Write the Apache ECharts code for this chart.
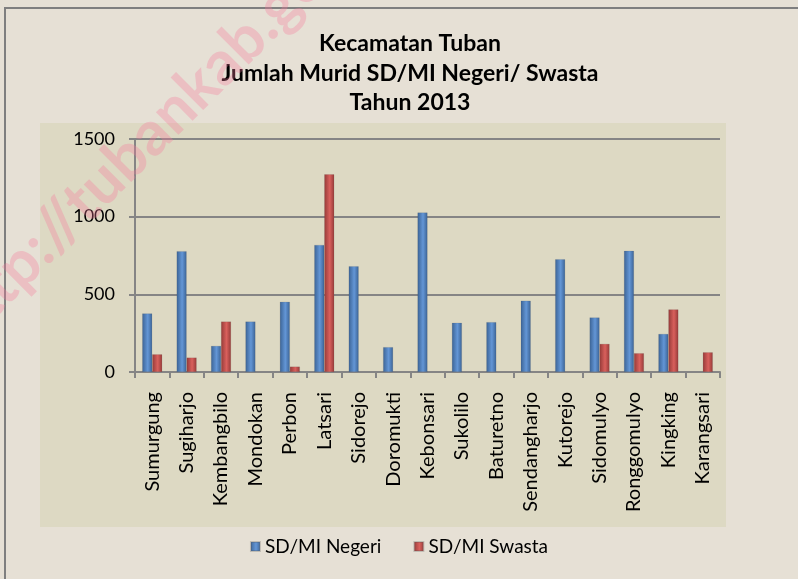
<!DOCTYPE html>
<html>
<head>
<meta charset="utf-8">
<script src="https://cdn.jsdelivr.net/npm/echarts@6/dist/echarts.min.js"></script>
<style>html,body{margin:0;padding:0;background:#e6e0d5;}#c{width:798px;height:579px;}</style>
</head>
<body>
<div id="c"></div>
<script>
var categories = ['Sumurgung','Sugiharjo','Kembangbilo','Mondokan','Perbon','Latsari','Sidorejo','Doromukti','Kebonsari','Sukolilo','Baturetno','Sendangharjo','Kutorejo','Sidomulyo','Ronggomulyo','Kingking','Karangsari'];
var negeri = [377, 778, 168, 325, 452, 818, 681, 160, 1027, 317, 321, 459, 726, 351, 780, 245, null];
var swasta = [114, 93, 325, null, 35, 1273, null, null, null, null, null, null, null, 181, 121, 403, 127];
var yTicks = [0, 500, 1000, 1500];
var seriesNames = ['SD/MI Negeri', 'SD/MI Swasta'];
var titleLines = ['Kecamatan Tuban', 'Jumlah Murid SD/MI Negeri/ Swasta', 'Tahun 2013'];

var FONT = 'Lato, "Open Sans", sans-serif';
function grad(dark, light) {
  return new echarts.graphic.LinearGradient(0, 0, 1, 0, [
    {offset: 0, color: dark}, {offset: 0.55, color: light}, {offset: 1, color: dark}
  ]);
}
var chart = echarts.init(document.getElementById('c'));
chart.setOption({
  backgroundColor: '#e6e0d5',
  animation: false,
  color: ['#4f81bd', '#c0504d'],
  graphic: [
    {type: 'rect', shape: {x: 5, y: 8, width: 820, height: 620}, style: {fill: 'none', stroke: '#7f7f7f', lineWidth: 2}, z: -10},
    {type: 'rect', shape: {x: 40, y: 123, width: 686, height: 404}, style: {fill: '#ddd9c3'}, z: -9},
    {type: 'text', x: -48, y: 333, rotation: Math.PI / 4, style: {text: 'http://tubankab.go.id', font: 'bold 62px ' + FONT, fill: 'rgba(245,120,155,0.32)', verticalAlign: 'middle'}, z: 100}
  ],
  title: {
    text: titleLines.join('\n'),
    left: 410, top: 29, textAlign: 'center', padding: 0,
    textStyle: {fontFamily: FONT, fontSize: 23, fontWeight: 'bold', color: '#000', lineHeight: 29.5}
  },
  legend: {
    bottom: 18, left: 'center',
    itemWidth: 9, itemHeight: 9, itemGap: 32,
    icon: 'rect',
    textStyle: {fontFamily: FONT, fontSize: 19, color: '#000'},
    data: seriesNames
  },
  grid: {left: 135, right: 78, top: 139, bottom: 207},
  xAxis: {
    type: 'category', data: categories,
    axisLine: {lineStyle: {color: '#858585', width: 2}},
    axisTick: {show: true, length: 6, lineStyle: {color: '#858585', width: 2}},
    axisLabel: {rotate: 90, fontFamily: FONT, fontSize: 20, color: '#000', margin: 20, interval: 0}
  },
  yAxis: {
    type: 'value', min: yTicks[0], max: yTicks[yTicks.length - 1], interval: 500,
    axisLine: {show: true, lineStyle: {color: '#858585', width: 2}},
    axisTick: {show: true, length: 6, lineStyle: {color: '#858585', width: 2}},
    axisLabel: {fontFamily: FONT, fontSize: 18, color: '#000', margin: 20, formatter: function (v) { return String(v); }},
    splitLine: {lineStyle: {color: '#858585', width: 2}}
  },
  series: [
    {name: seriesNames[0], type: 'bar', data: negeri, barWidth: 10, barGap: '0%',
     itemStyle: {color: grad('#3b6395', '#6396d6'), borderColor: 'rgba(80,80,80,0.25)', borderWidth: 0.5}},
    {name: seriesNames[1], type: 'bar', data: swasta, barWidth: 10,
     itemStyle: {color: grad('#953a38', '#d9605c'), borderColor: 'rgba(80,80,80,0.25)', borderWidth: 0.5}}
  ]
});
</script>
</body>
</html>
